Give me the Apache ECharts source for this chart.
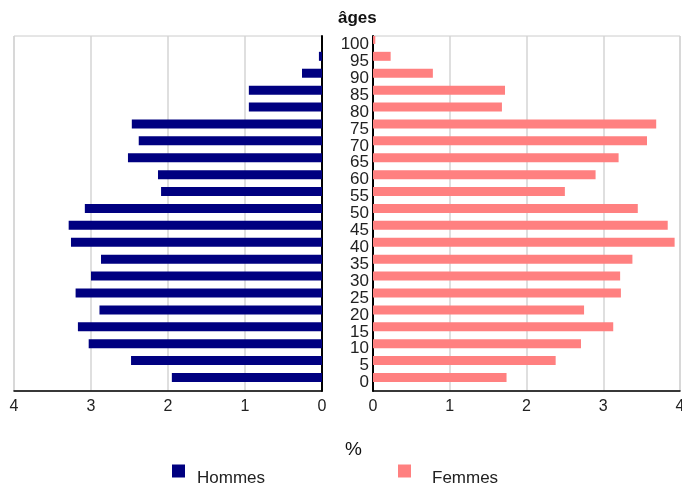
<!DOCTYPE html>
<html><head><meta charset="utf-8">
<script src="https://cdn.jsdelivr.net/npm/echarts@6/dist/echarts.min.js"></script>
<style>html,body{margin:0;padding:0;background:#fff}#c{width:682px;height:489px}</style>
</head><body><div id="c"></div>
<script>
const ages = ['0','5','10','15','20','25','30','35','40','45','50','55','60','65','70','75','80','85','90','95','100'];
const hommes = [1.95,2.48,3.03,3.17,2.89,3.20,3.00,2.87,3.26,3.29,3.08,2.09,2.13,2.52,2.38,2.47,0.95,0.95,0.26,0.04,0];
const femmes = [1.74,2.38,2.71,3.13,2.75,3.23,3.22,3.38,3.93,3.84,3.45,2.50,2.90,3.20,3.57,3.69,1.68,1.72,0.78,0.23,0.03];
const placeholder = ages.map(() => null);
const xTicks = [0,1,2,3,4];

const font = 'Liberation Sans, Arial, sans-serif';
const chart = echarts.init(document.getElementById('c'));
const xCommon = {
  type:'value', min:0, max:4, interval:1,
  axisLine:{show:true, lineStyle:{color:'#000', width:1.5}},
  axisTick:{show:false},
  axisLabel:{color:'#222', fontSize:16, fontFamily:font, margin:8, showMaxLabel:true, showMinLabel:true,
    formatter: v => xTicks.includes(v) ? String(v) : ''},
  splitLine:{show:true, lineStyle:{color:'#d4d4d4', width:1.5}}
};
chart.setOption({
  animation:false,
  textStyle:{fontFamily:font},
  title:[
    {text:'âges', left:333, top:5, textStyle:{fontSize:17, fontWeight:'bold', color:'#111', fontFamily:font}},
    {text:'%', left:340, top:435, textStyle:{fontSize:19, fontWeight:'normal', color:'#111', fontFamily:font}}
  ],
  legend:[
    {data:['Hommes'], left:172, top:455, padding:0, itemWidth:13, itemHeight:13, itemGap:10, icon:'rect',
     formatter: n => '\n' + n,
     textStyle:{fontSize:17, lineHeight:15, color:'#222', fontFamily:font, padding:[0,0,0,7]}},
    {data:['Femmes'], left:398, top:455, padding:0, itemWidth:13, itemHeight:13, itemGap:10, icon:'rect',
     formatter: n => '\n' + n,
     textStyle:{fontSize:17, lineHeight:15, color:'#222', fontFamily:font, padding:[0,0,0,16]}}
  ],
  grid:[
    {left:14, right:360, top:36, bottom:98, show:true, borderColor:'#ccc', borderWidth:1, outerBoundsMode:'none', containLabel:false},
    {left:373, right:2, top:36, bottom:98, show:true, borderColor:'#ccc', borderWidth:1, outerBoundsMode:'none', containLabel:false}
  ],
  xAxis:[
    Object.assign({gridIndex:0, inverse:true}, xCommon),
    Object.assign({gridIndex:1}, xCommon)
  ],
  yAxis:[
    {gridIndex:0, type:'category', data:ages, position:'right',
     axisLine:{show:true, lineStyle:{color:'#000', width:2}}, axisTick:{show:false}, axisLabel:{show:false}},
    {gridIndex:1, type:'category', data:ages, position:'left',
     axisLine:{show:true, lineStyle:{color:'#000', width:2}}, axisTick:{show:false},
     axisLabel:{show:true, interval:0, color:'#222', fontSize:17, fontFamily:font, margin:4, lineHeight:14, padding:[5,0,0,0]}}
  ],
  series:[
    {name:'Hommes', type:'bar', xAxisIndex:0, yAxisIndex:0, data:hommes, barWidth:9, barGap:'12%', itemStyle:{color:'#000080'}},
    {name:'_h', type:'bar', xAxisIndex:0, yAxisIndex:0, data:placeholder, barWidth:9, barGap:'12%', silent:true},
    {name:'Femmes', type:'bar', xAxisIndex:1, yAxisIndex:1, data:femmes, barWidth:9, barGap:'12%', itemStyle:{color:'#ff8080'}},
    {name:'_f', type:'bar', xAxisIndex:1, yAxisIndex:1, data:placeholder, barWidth:9, barGap:'12%', silent:true}
  ]
});
</script></body></html>
